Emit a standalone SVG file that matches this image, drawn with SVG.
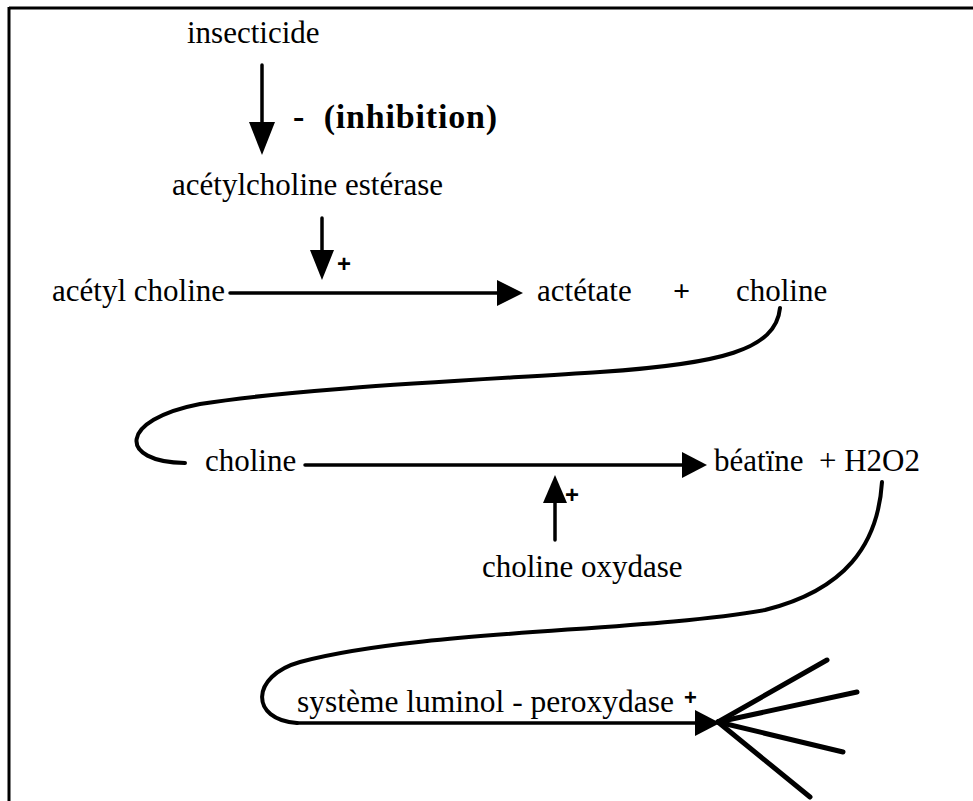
<svg xmlns="http://www.w3.org/2000/svg" width="973" height="801" viewBox="0 0 973 801">
  <style>
    .t { font-family: "Liberation Serif", "Times New Roman", serif; font-size: 31px; fill: #000; }
    .b { font-family: "Liberation Serif", "Times New Roman", serif; font-size: 34px; font-weight: bold; fill: #000; }
    .p { font-family: "Liberation Sans", Arial, sans-serif; font-size: 24px; font-weight: bold; fill: #000; }
    .ln { stroke: #000; stroke-width: 3.5; fill: none; stroke-linecap: round; }
    .cv { stroke: #000; stroke-width: 4; fill: none; stroke-linecap: round; }
    .ray { stroke: #000; stroke-width: 5; fill: none; stroke-linecap: round; }
    .hd { fill: #000; stroke: none; }
  </style>

  <rect width="973" height="801" fill="#fff"/>

  <!-- frame (top and left edges) -->
  <g id="frame">
    <line x1="9" y1="8" x2="973" y2="8" stroke="#000" stroke-width="3"/>
    <line x1="9" y1="7" x2="9" y2="801" stroke="#000" stroke-width="3"/>
  </g>

  <!-- nodes -->
  <g id="insecticide"><text class="t" x="187" y="43">insecticide</text></g>
  <g id="inhibition"><text class="b" x="293" y="128" textLength="204" lengthAdjust="spacing" xml:space="preserve">-  (inhibition)</text></g>
  <g id="ache"><text class="t" x="172" y="195">acétylcholine estérase</text></g>
  <g id="acetylcholine"><text class="t" x="52" y="301">acétyl choline</text></g>
  <g id="acetate"><text class="t" x="537" y="301">actétate</text></g>
  <g id="plus1"><text class="b" x="673" y="301" style="font-size:30px">+</text></g>
  <g id="choline1"><text class="t" x="736" y="301">choline</text></g>
  <g id="choline2"><text class="t" x="205" y="471">choline</text></g>
  <g id="betaine"><text class="t" x="714" y="471" xml:space="preserve">béatïne  + H2O2</text></g>
  <g id="cholineoxydase"><text class="t" x="482" y="577">choline oxydase</text></g>
  <g id="luminol"><text class="t" x="297" y="712" style="font-size:32px" textLength="377" lengthAdjust="spacingAndGlyphs">système luminol - peroxydase</text></g>

  <!-- connectors -->
  <g id="connectors">
    <!-- insecticide inhibits the esterase -->
    <line class="ln" x1="262" y1="65" x2="262" y2="125"/>
    <polygon class="hd" points="249,122 275,122 262,155"/>

    <!-- esterase catalyses hydrolysis -->
    <line class="ln" x1="322" y1="218" x2="322" y2="254"/>
    <polygon class="hd" points="310,250 334,250 322,280"/>
    <text class="p" x="337" y="272">+</text>

    <!-- acetylcholine to acetate + choline -->
    <line class="ln" x1="230" y1="293" x2="500" y2="293"/>
    <polygon class="hd" points="497,280 523,293 497,306"/>

    <!-- choline carried to next reaction -->
    <path class="cv" d="M 780,308 C 776,350 720,364 600,372 C 480,380 300,388 200,404 C 118,420 118,462 185,463"/>

    <!-- choline to betaine + H2O2 -->
    <line class="ln" x1="305" y1="465" x2="685" y2="465"/>
    <polygon class="hd" points="682,452 707,465 682,478"/>

    <!-- choline oxydase activates -->
    <line class="ln" x1="555" y1="540" x2="555" y2="500"/>
    <polygon class="hd" points="543,503 567,503 555,475"/>
    <text class="p" x="565" y="503">+</text>

    <!-- H2O2 carried to luminol system -->
    <path class="cv" d="M 882,482 C 878,545 845,590 765,610 C 640,632 420,630 300,662 C 250,676 250,720 297,723"/>
    <line class="ln" x1="297" y1="723" x2="700" y2="723"/>
    <polygon class="hd" points="695,710 720,723 695,736"/>
    <text class="p" x="684" y="705" style="font-size:22px">+</text>

    <!-- emitted light -->
    <line class="ray" x1="718" y1="722" x2="827" y2="660"/>
    <line class="ray" x1="718" y1="722" x2="857" y2="692"/>
    <line class="ray" x1="718" y1="722" x2="843" y2="752"/>
    <line class="ray" x1="718" y1="722" x2="810" y2="797"/>
  </g>
</svg>
